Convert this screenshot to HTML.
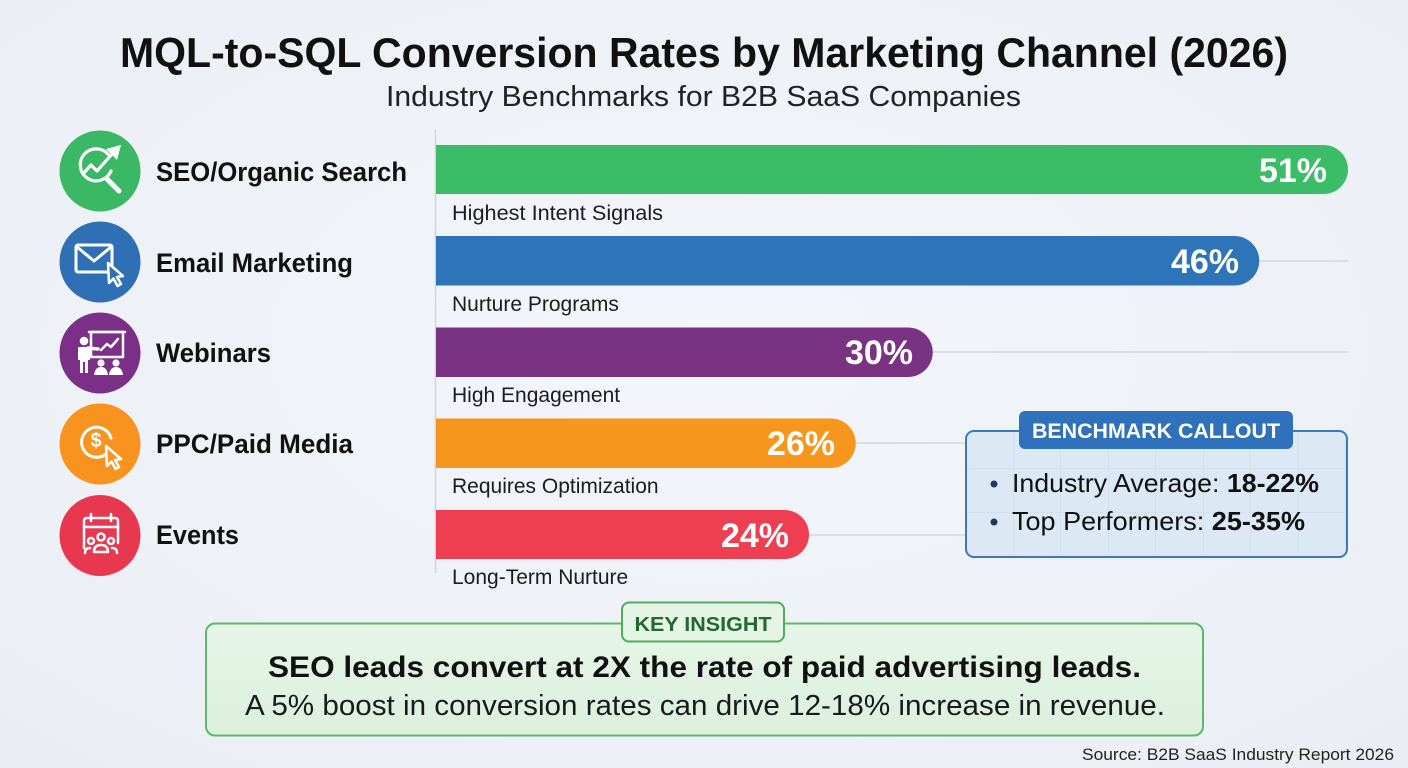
<!DOCTYPE html>
<html>
<head>
<meta charset="utf-8">
<style>
  html,body{margin:0;padding:0;background:#eff3f8;}
  svg{display:block;}
  text{font-family:"Liberation Sans", Arial, sans-serif;}
</style>
</head>
<body>
<svg width="1408" height="768" viewBox="0 0 1408 768" xmlns="http://www.w3.org/2000/svg">
  <defs>
    <radialGradient id="bg" cx="50%" cy="45%" r="75%">
      <stop offset="0" stop-color="#f3f6fa"/>
      <stop offset="1" stop-color="#eaeef4"/>
    </radialGradient>
    <pattern id="grid" x="966" y="425" width="47.5" height="44" patternUnits="userSpaceOnUse">
      <path d="M47.5 0 V44 M0 44 H47.5" fill="none" stroke="#c9d9ec" stroke-width="1"/>
    </pattern>
    <linearGradient id="green" x1="0" y1="0" x2="0" y2="1">
      <stop offset="0" stop-color="#e6f5e7"/>
      <stop offset="1" stop-color="#dcf0de"/>
    </linearGradient>
  </defs>
  <rect x="0" y="0" width="1408" height="768" fill="url(#bg)"/>

  <!-- Title -->
  <text x="120" y="67" font-size="42" font-weight="bold" fill="#111" textLength="1168" lengthAdjust="spacingAndGlyphs">MQL-to-SQL Conversion Rates by Marketing Channel (2026)</text>
  <text x="386" y="106" font-size="28.5" fill="#222" textLength="635" lengthAdjust="spacingAndGlyphs">Industry Benchmarks for B2B SaaS Companies</text>

  <!-- axis -->
  <line x1="435.5" y1="130" x2="435.5" y2="573" stroke="#cfd5de" stroke-width="1.5"/>

  <!-- connector lines -->
  <line x1="1259" y1="261" x2="1348" y2="261" stroke="#d3d8e0" stroke-width="1.5"/>
  <line x1="933" y1="352" x2="1348" y2="352" stroke="#d3d8e0" stroke-width="1.5"/>
  <line x1="856" y1="443" x2="966" y2="443" stroke="#d3d8e0" stroke-width="1.5"/>
  <line x1="809" y1="535" x2="966" y2="535" stroke="#d3d8e0" stroke-width="1.5"/>

  <!-- Bars -->
  <path d="M436 145 H1323.5 A24.5 24.5 0 0 1 1323.5 194 H436 Z" fill="#3bbd67"/>
  <path d="M436 236 H1234.5 A24.75 24.75 0 0 1 1234.5 285.5 H436 Z" fill="#2e74b8"/>
  <path d="M436 327.5 H908 A24.75 24.75 0 0 1 908 377 H436 Z" fill="#7a3383"/>
  <path d="M436 418.5 H831 A24.75 24.75 0 0 1 831 468 H436 Z" fill="#f7961c"/>
  <path d="M436 510 H784.5 A24.5 24.5 0 0 1 784.5 559 H436 Z" fill="#ee3f52"/>

  <g font-size="34" font-weight="bold" fill="#ffffff" text-anchor="end">
    <text x="1327" y="182">51%</text>
    <text x="1239" y="273">46%</text>
    <text x="913" y="364">30%</text>
    <text x="835" y="455">26%</text>
    <text x="789" y="547">24%</text>
  </g>

  <g font-size="21" fill="#1c1c1c">
    <text x="452" y="220" textLength="211" lengthAdjust="spacingAndGlyphs">Highest Intent Signals</text>
    <text x="452" y="311">Nurture Programs</text>
    <text x="452" y="402">High Engagement</text>
    <text x="452" y="493">Requires Optimization</text>
    <text x="452" y="584">Long-Term Nurture</text>
  </g>

  <!-- Channel labels -->
  <g font-size="27" font-weight="bold" fill="#111">
    <text x="156" y="181" textLength="251" lengthAdjust="spacingAndGlyphs">SEO/Organic Search</text>
    <text x="156" y="272" textLength="197" lengthAdjust="spacingAndGlyphs">Email Marketing</text>
    <text x="156" y="362" textLength="115" lengthAdjust="spacingAndGlyphs">Webinars</text>
    <text x="156" y="453" textLength="197" lengthAdjust="spacingAndGlyphs">PPC/Paid Media</text>
    <text x="156" y="544" textLength="83" lengthAdjust="spacingAndGlyphs">Events</text>
  </g>

  <!-- Icons -->
  <!-- SEO -->
  <circle cx="100" cy="171" r="40.5" fill="#3bb865"/>
  <g fill="none" stroke="#fff" stroke-width="3.2" stroke-linecap="round" stroke-linejoin="round">
    <path d="M108 154 A16 16 0 1 0 111 171"/>
    <line x1="107" y1="179" x2="119" y2="191" stroke-width="5"/>
    <polyline points="83,174 91,165 97,171 112,154"/>
  </g>
  <polygon points="121,145 106,149 117,160" fill="#fff"/>
  <!-- Email -->
  <circle cx="100" cy="262" r="40.5" fill="#2e6fb6"/>
  <g fill="none" stroke="#fff" stroke-width="3" stroke-linejoin="round" stroke-linecap="round">
    <rect x="76" y="245" width="36" height="27" rx="2"/>
    <polyline points="77,247 94,261 111,247"/>
  </g>
  <polygon points="108,263 109,283 113.5,278.5 117.5,286 121,284 117,277 123,276" fill="#2e6fb6" stroke="#fff" stroke-width="2.5" stroke-linejoin="round"/>
  <!-- Webinars -->
  <circle cx="100" cy="353" r="40.5" fill="#7b2f86"/>
  <g fill="none" stroke="#fff" stroke-width="2.5" stroke-linejoin="round" stroke-linecap="round">
    <rect x="91" y="332" width="32" height="25"/>
    <line x1="89" y1="332" x2="125" y2="332"/>
    <polyline points="101,350 107,344 111,347 118,339"/>
    <line x1="88" y1="348" x2="98" y2="349" stroke-width="3.5"/>
  </g>
  <circle cx="84" cy="341" r="4.3" fill="#fff"/>
  <path d="M78 347 H90 V360 H88 V373 H85 V362 H83 V373 H80 V360 H78 Z" fill="#fff"/>
  <circle cx="101" cy="363" r="3.6" fill="#fff"/>
  <circle cx="116" cy="363" r="3.6" fill="#fff"/>
  <path d="M94 375 Q95 367 101 367 Q107 367 108 375 Z" fill="#fff"/>
  <path d="M109 375 Q110 367 116 367 Q122 367 123 375 Z" fill="#fff"/>
  <!-- PPC -->
  <circle cx="100" cy="444" r="40.5" fill="#f7931e"/>
  <path d="M108 452 A15 15 0 1 1 111 438" fill="none" stroke="#fff" stroke-width="3" stroke-linecap="round"/>
  <text x="96" y="447" font-size="20" font-weight="bold" fill="#fff" text-anchor="middle">$</text>
  <polygon points="106,446 107,466 111.5,461.5 115.5,469 119,467 115,460 121,459" fill="#f7931e" stroke="#fff" stroke-width="2.5" stroke-linejoin="round"/>
  <!-- Events -->
  <circle cx="100" cy="535.5" r="40.5" fill="#e8384f"/>
  <g fill="none" stroke="#fff" stroke-width="2.5" stroke-linecap="round" stroke-linejoin="round">
    <path d="M84 548 V521 Q84 518 87 518 H115 Q118 518 118 521 V543"/>
    <line x1="84" y1="527" x2="118" y2="527"/>
    <line x1="91" y1="514" x2="91" y2="521"/>
    <line x1="111" y1="514" x2="111" y2="521"/>
    <circle cx="101" cy="537" r="3.5"/>
    <circle cx="91" cy="541" r="3"/>
    <circle cx="111" cy="541" r="3"/>
    <path d="M94 552 Q94 545 101 545 Q108 545 108 552 Z"/>
    <path d="M85 553 Q85 548 90 548"/>
    <path d="M117 553 Q117 548 112 548"/>
  </g>

  <!-- Benchmark callout -->
  <rect x="966" y="431" width="381" height="126" rx="8" fill="#dde8f5"/>
  <rect x="966" y="431" width="381" height="126" rx="8" fill="url(#grid)"/>
  <rect x="966" y="431" width="381" height="126" rx="8" fill="none" stroke="#3b78bf" stroke-width="2"/>
  <rect x="1019" y="411" width="274" height="38" rx="6" fill="#2f72bb"/>
  <text x="1156" y="438" font-size="21" font-weight="bold" fill="#fff" text-anchor="middle" textLength="248" lengthAdjust="spacingAndGlyphs">BENCHMARK CALLOUT</text>
  <circle cx="994" cy="484" r="3.5" fill="#1d3b5e"/>
  <circle cx="994" cy="522" r="3.5" fill="#1d3b5e"/>
  <text x="1012" y="492" font-size="26" fill="#111" textLength="307" lengthAdjust="spacingAndGlyphs">Industry Average: <tspan font-weight="bold">18-22%</tspan></text>
  <text x="1012" y="530" font-size="26" fill="#111" textLength="293" lengthAdjust="spacingAndGlyphs">Top Performers: <tspan font-weight="bold">25-35%</tspan></text>

  <!-- Key insight -->
  <rect x="206" y="623.5" width="997" height="112" rx="9" fill="url(#green)" stroke="#5db86b" stroke-width="2"/>
  <rect x="622" y="602.5" width="162" height="39" rx="7" fill="#e4f4e5" stroke="#4eae5d" stroke-width="2"/>
  <text x="703" y="631" font-size="20" font-weight="bold" fill="#22682f" text-anchor="middle" textLength="137" lengthAdjust="spacingAndGlyphs">KEY INSIGHT</text>
  <text x="268" y="677" font-size="30" font-weight="bold" fill="#111" textLength="873" lengthAdjust="spacingAndGlyphs">SEO leads convert at 2X the rate of paid advertising leads.</text>
  <text x="245" y="715" font-size="29" fill="#1a1a1a" textLength="920" lengthAdjust="spacingAndGlyphs">A 5% boost in conversion rates can drive 12-18% increase in revenue.</text>

  <!-- Source -->
  <text x="1394" y="760" font-size="17" fill="#222" text-anchor="end" textLength="312" lengthAdjust="spacingAndGlyphs">Source: B2B SaaS Industry Report 2026</text>
</svg>
</body>
</html>
